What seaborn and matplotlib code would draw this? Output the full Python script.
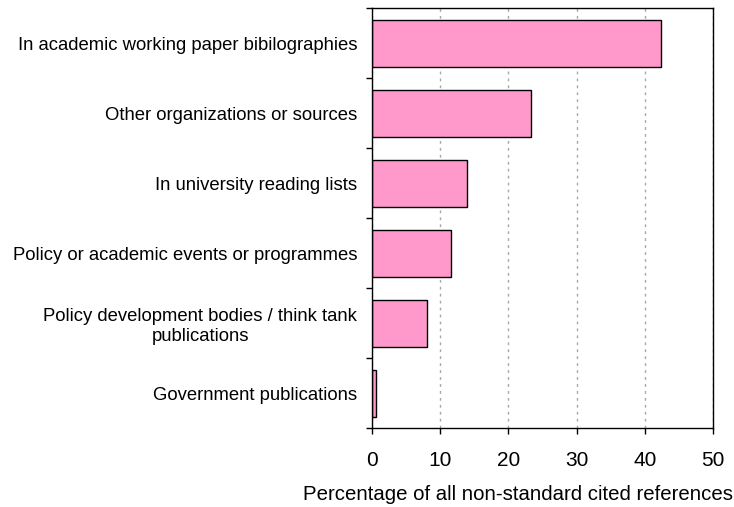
import matplotlib
matplotlib.use('Agg')
import matplotlib.pyplot as plt
import seaborn as sns
import pandas as pd

categorias = ['In academic working paper bibilographies',
              'Other organizations or sources',
              'In university reading lists',
              'Policy or academic events or programmes',
              'Policy development bodies / think tank\npublications',
              'Government publications']
percentuais = [42.3, 23.3, 14.0, 11.65, 8.1, 0.65]
ticks_x = [0, 10, 20, 30, 40, 50]

df = pd.DataFrame({'categoria': categorias, 'percentual': percentuais})

sns.set_style('white')
plt.rcParams['font.family'] = ['Liberation Sans', 'DejaVu Sans']
plt.rcParams['text.color'] = 'black'
plt.rcParams['xtick.color'] = 'black'
plt.rcParams['ytick.color'] = 'black'
plt.rcParams['axes.labelcolor'] = 'black'

fig = plt.figure(figsize=(7.34, 5.07), dpi=100)
ax = fig.add_axes([0.5064, 0.1552, 0.4654, 0.8284])

sns.barplot(data=df, x='percentual', y='categoria', orient='h', color='#FF99CC',
            saturation=1, edgecolor='black', linewidth=1, width=0.667, ax=ax)

ax.set_xlim(0, 50)
ax.set_ylim(5.5, -0.5)
ax.set_xticks(ticks_x)
ax.set_xticklabels([str(t) for t in ticks_x], fontsize=15)
ax.tick_params(axis='x', direction='out', length=4, width=1, bottom=True, pad=12)

# ticks do eixo Y nos limites das categorias (estilo Excel)
ax.set_yticks(range(len(categorias)))
ax.set_yticklabels(categorias, fontsize=13.3)
ax.set_yticks([i - 0.5 for i in range(len(categorias) + 1)], minor=True)
ax.tick_params(axis='y', which='major', length=0, pad=10.5)
ax.tick_params(axis='y', which='minor', direction='out', length=4, width=1, left=True)
for lbl in ax.get_yticklabels():
    lbl.set_multialignment('center')

ax.grid(axis='x', color='#A6A6A6', linestyle=(0, (2, 3)), linewidth=1)
ax.set_axisbelow(True)
for s in ax.spines.values():
    s.set_color('black')
    s.set_linewidth(1)

ax.set_ylabel('')
ax.set_xlabel('Percentage of all non-standard cited references', fontsize=14.7)
ax.xaxis.set_label_coords(0.428, -0.136)

fig.savefig('out.png', dpi=100)
